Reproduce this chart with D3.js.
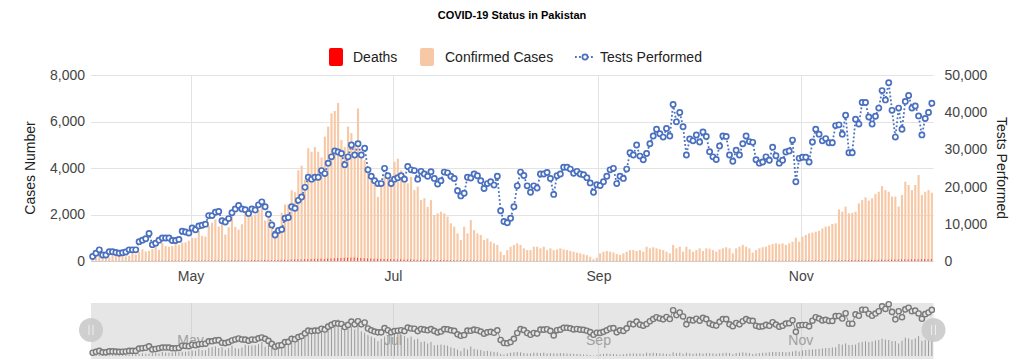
<!DOCTYPE html>
<html>
<head>
<meta charset="utf-8">
<script src="https://cdn.jsdelivr.net/npm/d3@7"></script>
<style>
  html, body { margin: 0; padding: 0; background: #fff; }
  svg { display: block; font-family: "Liberation Sans", Arial, sans-serif; }
</style>
</head>
<body>
<div id="chart-area"></div>
<script>
const chartWidth = 1024
const chartHeight = 359

// daily values, 1 Apr 2020 onwards
const firstDay = Date.UTC(2020, 3, 1)

const cases = [
    240, 250, 260, 220, 270, 150, 300, 245, 250, 305,
    205, 225, 340, 280, 380, 505, 415, 440, 515, 625,
    475, 780, 640, 615, 640, 810, 700, 790, 805, 875,
    990, 990, 1300, 1080, 1050, 1520, 1640, 1790, 1480, 1640,
    1140, 1450, 1930, 1470, 1350, 1580, 2100, 1970, 1930, 2000,
    2190, 2600, 1740, 2160, 1750, 1360, 1450, 2080, 2430, 2430,
    3040, 2960, 3900, 4100, 3500, 4850, 4700, 4900, 4700, 4450,
    5350, 5780, 6350, 6450, 6800, 5200, 4900, 5780, 5500, 4950,
    6560, 4600, 4340, 3900, 3620, 3340, 2760, 3200, 3620, 3760,
    3620, 4270, 4400, 3900, 3700, 3340, 3620, 3050, 3200, 2620,
    2700, 2330, 2620, 1980, 2050, 2120, 2050, 1910, 1620, 1475,
    1190, 900, 1475, 1190, 1760, 1330, 1190, 1120, 900, 970,
    830, 760, 690, 400, 260, 470, 615, 690, 760, 690,
    545, 470, 470, 615, 615, 545, 615, 470, 545, 470,
    500, 545, 500, 470, 430, 400, 360, 330, 290, 250,
    185, 80, 140, 330, 400, 430, 400, 370, 300, 260,
    330, 400, 470, 470, 430, 470, 400, 615, 545, 590,
    545, 500, 470, 400, 330, 690, 545, 615, 400, 615,
    500, 400, 470, 545, 430, 545, 530, 470, 400, 500,
    545, 590, 545, 330, 545, 615, 690, 615, 545, 360,
    470, 545, 590, 615, 690, 730, 760, 730, 760, 690,
    760, 830, 1000, 830, 1050, 1120, 1190, 1220, 1260, 1300,
    1400, 1480, 1500, 1590, 1620, 2220, 2120, 2340, 2050, 2070,
    2120, 2480, 2620, 2740, 2600, 2700, 2880, 2980, 3220, 3050,
    2980, 2770, 2770, 2340, 2840, 3410, 3270, 3050, 3270, 3700,
    2840, 2980, 3050, 2940
]

const deaths = [
    2, 2, 3, 3, 4, 5, 4, 6, 6, 5, 7, 8, 8, 10, 9, 12, 12, 15, 12, 14,
    17, 15, 18, 20, 17, 21, 20, 21, 22, 25,
    18, 20, 19, 22, 24, 20, 25, 28, 30, 26, 24, 27, 31, 33, 35, 30, 32, 28, 35, 40,
    38, 32, 45, 40, 35, 33, 42, 50, 55, 48, 60,
    65, 70, 68, 72, 80, 85, 90, 95, 100, 88, 105, 110, 118, 125, 130, 136, 140, 148, 153, 136,
    128, 119, 110, 103, 98, 95, 92, 88, 83, 80,
    75, 70, 68, 65, 60, 62, 58, 55, 52, 50, 48, 46, 44, 42, 40, 38, 36, 34, 32, 30,
    28, 26, 25, 24, 22, 20, 18, 16, 15, 14, 13,
    12, 11, 10, 10, 9, 9, 8, 8, 7, 7, 6, 6, 6, 5, 5, 5, 6, 6, 5, 4,
    5, 6, 7, 6, 5, 4, 5, 6, 7, 5, 4,
    5, 6, 5, 4, 6, 7, 6, 5, 6, 7, 5, 6, 7, 6, 8, 7, 6, 5, 6, 7,
    8, 7, 6, 5, 6, 7, 8, 7, 6, 7,
    8, 9, 7, 8, 9, 10, 8, 9, 10, 11, 9, 10, 11, 12, 10, 11, 12, 13, 11, 12,
    13, 14, 12, 13, 14, 15, 16, 14, 15, 16, 17,
    18, 20, 19, 22, 24, 21, 25, 27, 28, 26, 30, 32, 35, 34, 37, 40, 38, 42, 45, 43,
    47, 50, 48, 52, 55, 53, 58, 60, 62, 65,
    67, 70, 68, 72, 75, 73, 78, 80, 76, 82
]

const tests = [
    1200, 2100, 3000, 1600, 1600, 2500, 2500, 2300, 2100, 2200,
    2400, 3000, 3000, 3000, 5200, 5600, 6000, 7400, 4400, 4800,
    5600, 6200, 6200, 6200, 5500, 5500, 5800, 8000, 7800, 7500,
    8900, 8400, 9400, 9600, 9900, 12200, 12200, 13100, 13300, 10800,
    10500, 11400, 13000, 14000, 14900, 14000, 13800, 12800, 14000, 13700,
    15100, 15900, 14600, 12600, 9700, 7000, 8200, 8500, 11500, 11700,
    14600, 14200, 16300, 17200, 19800, 22500, 22000, 22500, 22500, 24300,
    23500, 26300, 28000, 29600, 29300, 28900, 25900, 28000, 31200, 28500,
    31500, 28500, 30300, 24500, 22800, 21600, 20800, 20800, 24900, 22900,
    20800, 22000, 22400, 22900, 22000, 25400, 24500, 24300, 22000, 24100,
    23400, 22800, 24000, 22200, 20700, 21600, 23900, 23700, 22800, 22200,
    18900, 17500, 18200, 22500, 22300, 23400, 22900, 21600, 19500, 20800,
    21300, 20400, 22800, 13500, 10600, 10300, 11500, 14600, 20200, 23900,
    23000, 20200, 18500, 20200, 19600, 23400, 23400, 23800, 22200, 17900,
    22900, 23400, 25200, 25200, 24700, 23600, 24100, 23400, 23200, 22400,
    21000, 18500, 20500, 20300, 21300, 22800, 24500, 24900, 20800, 22800,
    22200, 24700, 29100, 28500, 31200, 28200, 27200, 28900, 31500, 33600,
    35400, 34200, 33300, 35600, 33600, 42100, 37400, 39900, 36100, 28500,
    32800, 32300, 33900, 32000, 34700, 33500, 29400, 28000, 27300, 30900,
    33600, 33500, 28500, 26800, 29800, 28500, 31500, 33600, 32100, 31900,
    27200, 26300, 26600, 28000, 27100, 30600, 28300, 26300, 27100, 29300,
    29600, 32500, 21300, 27600, 27900, 27900, 26600, 32000, 35400, 34100,
    32300, 32900, 31800, 31800, 36400, 36600, 34100, 39200, 29100, 29100,
    38100, 36800, 42600, 42600, 38700, 36800, 38900, 41100, 45800, 43300,
    47900, 40500, 33300, 41100, 35400, 42900, 44500, 41100, 41700, 39000,
    33900, 38300, 39900, 42400
]

const leftTicks = [0, 2000, 4000, 6000, 8000]
const rightTicks = [0, 10000, 20000, 30000, 40000, 50000]
const monthTicks = [Date.UTC(2020, 4, 1), Date.UTC(2020, 6, 1), Date.UTC(2020, 8, 1), Date.UTC(2020, 10, 1)]
const monthLabels = ["May", "Jul", "Sep", "Nov"]

const caseColor = "#f7c8a6"
const deathColor = "#ff0000"
const testColor = "#4a70bf"

const plot = {left: 91, right: 933.5, top: 75, bottom: 261}
const nav = {top: 303, bottom: 359}

const dayMs = 864e5
const dates = cases.map((c, i) => new Date(firstDay + i * dayMs + dayMs / 2))

const svg = d3.select("#chart-area").append("svg")
    .attr("width", chartWidth)
    .attr("height", chartHeight)

const x = d3.scaleUtc()
    .domain([new Date(firstDay), new Date(firstDay + cases.length * dayMs)])
    .range([plot.left, plot.right])

const yLeft = d3.scaleLinear().domain([0, 8000]).range([plot.bottom, plot.top])
const yRight = d3.scaleLinear().domain([0, 50000]).range([plot.bottom, plot.top])

// gridlines
svg.append("g")
    .selectAll("line")
    .data(leftTicks)
    .join("line")
    .attr("x1", plot.left).attr("x2", plot.right)
    .attr("y1", d => Math.round(yLeft(d)) + 0.5).attr("y2", d => Math.round(yLeft(d)) + 0.5)
    .attr("stroke", d => d === 0 ? "#cfcfcf" : "#e3e3e3")

svg.append("g")
    .selectAll("line")
    .data(monthTicks)
    .join("line")
    .attr("x1", d => Math.round(x(d)) + 0.5).attr("x2", d => Math.round(x(d)) + 0.5)
    .attr("y1", plot.top).attr("y2", plot.bottom)
    .attr("stroke", "#e3e3e3")

// bars
const barW = 2.1
svg.append("g")
    .selectAll("rect")
    .data(cases)
    .join("rect")
    .attr("x", (d, i) => x(dates[i]) - barW / 2)
    .attr("y", d => yLeft(d))
    .attr("width", barW)
    .attr("height", d => plot.bottom - yLeft(d))
    .attr("fill", caseColor)

// deaths sit as thin slivers next to each case bar
svg.append("g")
    .selectAll("rect")
    .data(deaths)
    .join("rect")
    .attr("x", (d, i) => x(dates[i]) - barW / 2)
    .attr("y", d => yLeft(d))
    .attr("width", 1)
    .attr("height", d => plot.bottom - yLeft(d))
    .attr("fill", deathColor)
    .attr("opacity", 0.7)

// tests line
const testLine = d3.line()
    .x((d, i) => x(dates[i]))
    .y(d => yRight(d))

svg.append("path")
    .datum(tests)
    .attr("d", testLine)
    .attr("fill", "none")
    .attr("stroke", testColor)
    .attr("stroke-width", 1.8)
    .attr("stroke-dasharray", "1.8,2.2")

svg.append("g")
    .selectAll("circle")
    .data(tests)
    .join("circle")
    .attr("cx", (d, i) => x(dates[i]))
    .attr("cy", d => yRight(d))
    .attr("r", 2.6)
    .attr("fill", "#fff")
    .attr("stroke", testColor)
    .attr("stroke-width", 1.7)

// axes
const leftAxis = d3.axisLeft(yLeft).tickValues(leftTicks).tickSize(0).tickPadding(6).tickFormat(d3.format(","))
const gl = svg.append("g").attr("transform", `translate(${plot.left}, 0)`).call(leftAxis)
gl.select(".domain").remove()
gl.selectAll("text").attr("font-size", 14).attr("fill", "#444").attr("font-family", "Liberation Sans, Arial, sans-serif")

const rightAxis = d3.axisRight(yRight).tickValues(rightTicks).tickSize(0).tickPadding(11).tickFormat(d3.format(","))
const gr = svg.append("g").attr("transform", `translate(${plot.right}, 0)`).call(rightAxis)
gr.select(".domain").remove()
gr.selectAll("text").attr("font-size", 14).attr("fill", "#444").attr("font-family", "Liberation Sans, Arial, sans-serif")

const bottomAxis = d3.axisBottom(x).tickValues(monthTicks.map(d => new Date(d))).tickSize(0).tickPadding(10)
    .tickFormat((d, i) => monthLabels[i])
const gb = svg.append("g").attr("transform", `translate(0, ${plot.bottom})`).call(bottomAxis)
gb.select(".domain").remove()
gb.selectAll("text").attr("font-size", 14).attr("fill", "#444").attr("font-family", "Liberation Sans, Arial, sans-serif")

// axis titles
svg.append("text")
    .attr("transform", `translate(35, ${(plot.top + plot.bottom) / 2}) rotate(-90)`)
    .attr("text-anchor", "middle")
    .attr("font-size", 14)
    .attr("fill", "#222")
    .text("Cases Number")

svg.append("text")
    .attr("transform", `translate(997, ${(plot.top + plot.bottom) / 2}) rotate(90)`)
    .attr("text-anchor", "middle")
    .attr("font-size", 14)
    .attr("fill", "#222")
    .text("Tests Performed")

// title
svg.append("text")
    .attr("x", 512).attr("y", 19)
    .attr("text-anchor", "middle")
    .attr("font-size", 11)
    .attr("font-weight", "bold")
    .attr("fill", "#000")
    .text("COVID-19 Status in Pakistan")

// legend
const legend = svg.append("g").attr("font-size", 14).attr("fill", "#222")
legend.append("rect").attr("x", 329).attr("y", 48).attr("width", 14).attr("height", 18).attr("rx", 2).attr("fill", deathColor)
legend.append("text").attr("x", 353).attr("y", 62).text("Deaths")
legend.append("rect").attr("x", 420).attr("y", 48).attr("width", 14).attr("height", 18).attr("rx", 2).attr("fill", caseColor)
legend.append("text").attr("x", 445).attr("y", 62).text("Confirmed Cases")
legend.append("line").attr("x1", 575).attr("x2", 595).attr("y1", 57).attr("y2", 57)
    .attr("stroke", testColor).attr("stroke-width", 1.8).attr("stroke-dasharray", "1.8,2.2")
legend.append("circle").attr("cx", 585).attr("cy", 57).attr("r", 2.6)
    .attr("fill", "#fff").attr("stroke", testColor).attr("stroke-width", 1.7)
legend.append("text").attr("x", 600).attr("y", 62).text("Tests Performed")

// range navigator
const navG = svg.append("g")
navG.append("rect")
    .attr("x", plot.left).attr("y", nav.top)
    .attr("width", plot.right - plot.left).attr("height", nav.bottom - nav.top)
    .attr("fill", "#e6e6e6")

navG.selectAll("line.nav-grid")
    .data(monthTicks)
    .join("line")
    .attr("class", "nav-grid")
    .attr("x1", d => Math.round(x(d)) + 0.5).attr("x2", d => Math.round(x(d)) + 0.5)
    .attr("y1", nav.top).attr("y2", nav.bottom)
    .attr("stroke", "#d6d6d6")

navG.selectAll("text")
    .data(monthTicks)
    .join("text")
    .attr("x", d => x(d))
    .attr("y", 345)
    .attr("text-anchor", "middle")
    .attr("font-size", 14)
    .attr("fill", "#a0a0a0")
    .text((d, i) => monthLabels[i])

const yNavCases = d3.scaleLinear().domain([0, 8000]).range([356, 313])
const yNavTests = d3.scaleLinear().domain([0, 50000]).range([354, 302])

navG.append("g")
    .selectAll("rect")
    .data(cases)
    .join("rect")
    .attr("x", (d, i) => x(dates[i]) - 0.5)
    .attr("y", d => yNavCases(d))
    .attr("width", 1)
    .attr("height", d => 356 - yNavCases(d))
    .attr("fill", "#9a9a9a")

navG.append("path")
    .datum(tests)
    .attr("d", d3.line().x((d, i) => x(dates[i])).y(d => yNavTests(d)))
    .attr("fill", "none")
    .attr("stroke", "#7a7a7a")
    .attr("stroke-width", 0.8)

navG.append("g")
    .selectAll("circle")
    .data(tests)
    .join("circle")
    .attr("cx", (d, i) => x(dates[i]))
    .attr("cy", d => yNavTests(d))
    .attr("r", 2.6)
    .attr("fill", "#e6e6e6")
    .attr("stroke", "#7a7a7a")
    .attr("stroke-width", 1.4)

// handles
const handles = navG.selectAll("g.handle")
    .data([plot.left, plot.right])
    .join("g")
    .attr("class", "handle")
    .attr("transform", d => `translate(${d}, 330)`)
handles.append("circle").attr("r", 12).attr("fill", "#cacaca").attr("opacity", 0.9)
handles.append("line").attr("x1", -2).attr("x2", -2).attr("y1", -5).attr("y2", 5).attr("stroke", "#eee").attr("stroke-width", 1)
handles.append("line").attr("x1", 2).attr("x2", 2).attr("y1", -5).attr("y2", 5).attr("stroke", "#eee").attr("stroke-width", 1)
</script>
</body>
</html>
